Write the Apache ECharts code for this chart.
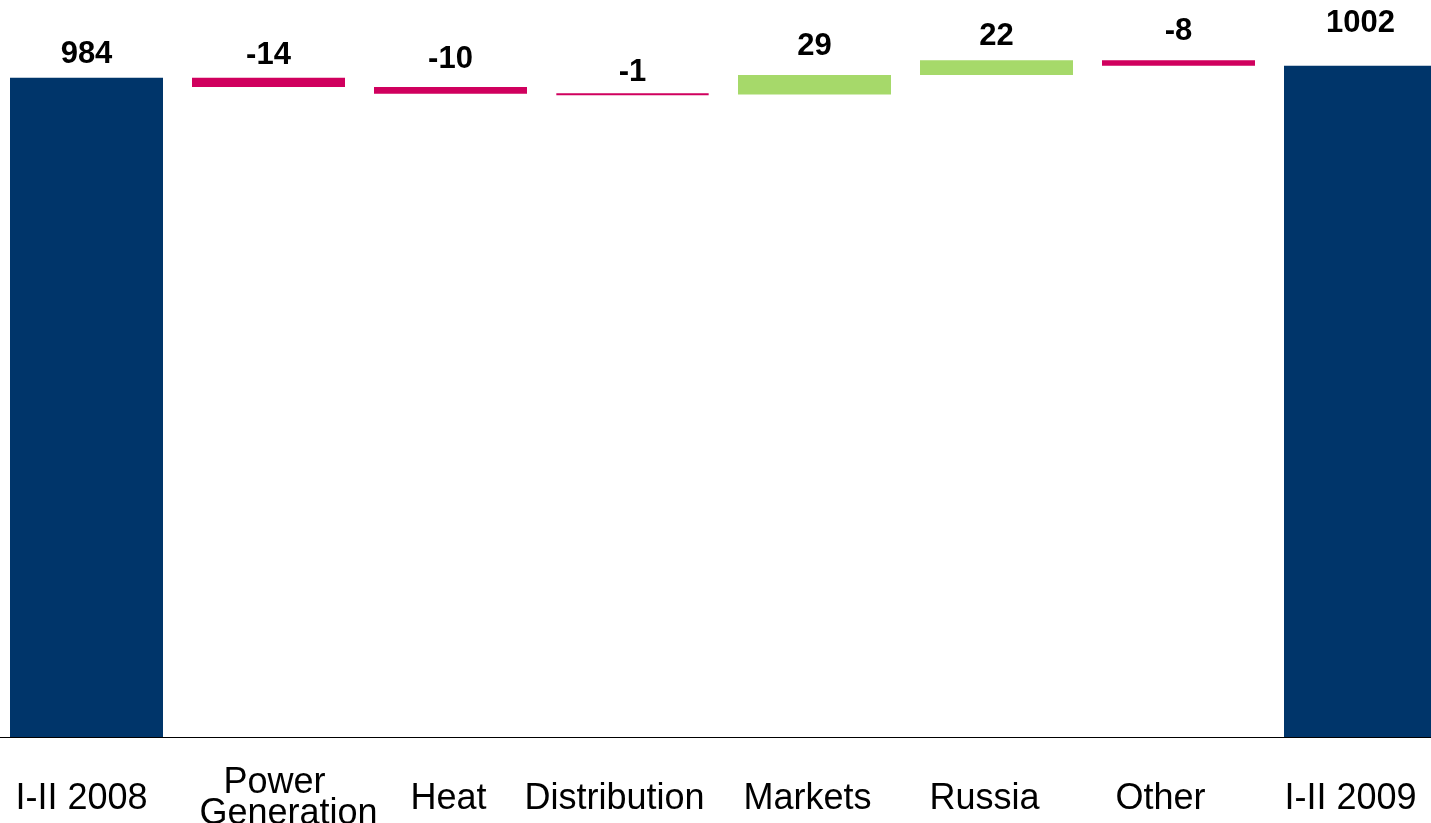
<!DOCTYPE html>
<html>
<head>
<meta charset="utf-8">
<style>
  html, body { margin: 0; padding: 0; background: #ffffff; }
  #chart { width: 1431px; height: 823px; }
</style>
<script src="https://cdn.jsdelivr.net/npm/echarts@6/dist/echarts.min.js"></script>
</head>
<body>
<div id="chart"></div>
<script>
// ---- data ----
var categories = ['I-II 2008', 'Power\nGeneration', 'Heat', 'Distribution', 'Markets', 'Russia', 'Other', 'I-II 2009'];
var values = [984, -14, -10, -1, 29, 22, -8, 1002];
var kinds = ['total', 'delta', 'delta', 'delta', 'delta', 'delta', 'delta', 'total'];

// ---- styles (not data) ----
var COLOR_TOTAL = '#00356A';
var COLOR_NEG = '#D0005E';
var COLOR_POS = '#A6D96A';
var FONT = '"Liberation Sans", Arial, sans-serif';
var labelDistance = [8, 7, 12, 5, 13, 8, 13, 27];
// horizontal shift of x labels (px), per line
var labelShift = [[-5], [6, 20], [-2], [-18], [-7], [-12], [-18], [-10]];

// ---- waterfall construction ----
var baseData = [], visData = [];
var running = 0;
for (var i = 0; i < values.length; i++) {
  var v = values[i];
  if (kinds[i] === 'total') {
    running = v;
    baseData.push(0);
    visData.push({
      value: v,
      itemStyle: { color: COLOR_TOTAL },
      label: { distance: labelDistance[i] }
    });
  } else {
    var prev = running;
    running = running + v;
    baseData.push(Math.min(prev, running));
    visData.push({
      value: Math.abs(v),
      signed: v,
      itemStyle: {
        color: v < 0 ? COLOR_NEG : COLOR_POS,
        borderColor: v < 0 ? COLOR_NEG : COLOR_POS,
        borderWidth: 2
      },
      label: { distance: labelDistance[i] }
    });
  }
}

// rich styles for x labels
var rich = {};
var catLabels = {};
categories.forEach(function (c, i) {
  var lines = c.split('\n');
  var parts = lines.map(function (ln, j) {
    var s = labelShift[i][j] || 0;
    var key = 'c' + i + '_' + j;
    rich[key] = {
      fontSize: 36, fontFamily: FONT, color: '#000', lineHeight: 31,
      padding: s < 0 ? [0, -2 * s, 0, 0] : [0, 0, 0, 2 * s]
    };
    return '{' + key + '|' + ln + '}';
  });
  catLabels[c] = parts.join('\n');
});

var chart = echarts.init(document.getElementById('chart'), null, { renderer: 'canvas' });
chart.setOption({
  animation: false,
  backgroundColor: '#ffffff',
  grid: { left: -4.5, right: -20.5, top: 0, bottom: 86, containLabel: false, outerBoundsMode: 'none' },
  xAxis: {
    type: 'category',
    data: categories,
    axisLine: { show: true, lineStyle: { color: '#000', width: 1.2 } },
    axisTick: { show: false },
    axisLabel: {
      interval: 0,
      margin: 62,
      verticalAlign: 'middle',
      hideOverlap: false,
      formatter: function (val) { return catLabels[val]; },
      rich: rich
    }
  },
  yAxis: {
    type: 'value',
    min: 0,
    max: 1100,
    show: false,
    splitLine: { show: false }
  },
  series: [
    {
      type: 'bar',
      stack: 'wf',
      barWidth: 153,
      itemStyle: { color: 'transparent' },
      emphasis: { disabled: true },
      data: baseData
    },
    {
      type: 'bar',
      stack: 'wf',
      barWidth: 153,
      emphasis: { disabled: true },
      label: {
        show: true,
        position: 'top',
        fontSize: 31,
        fontWeight: 'bold',
        fontFamily: FONT,
        color: '#000',
        formatter: function (p) {
          var d = p.data;
          return String(d.signed !== undefined ? d.signed : d.value);
        }
      },
      data: visData
    }
  ]
});
</script>
</body>
</html>
